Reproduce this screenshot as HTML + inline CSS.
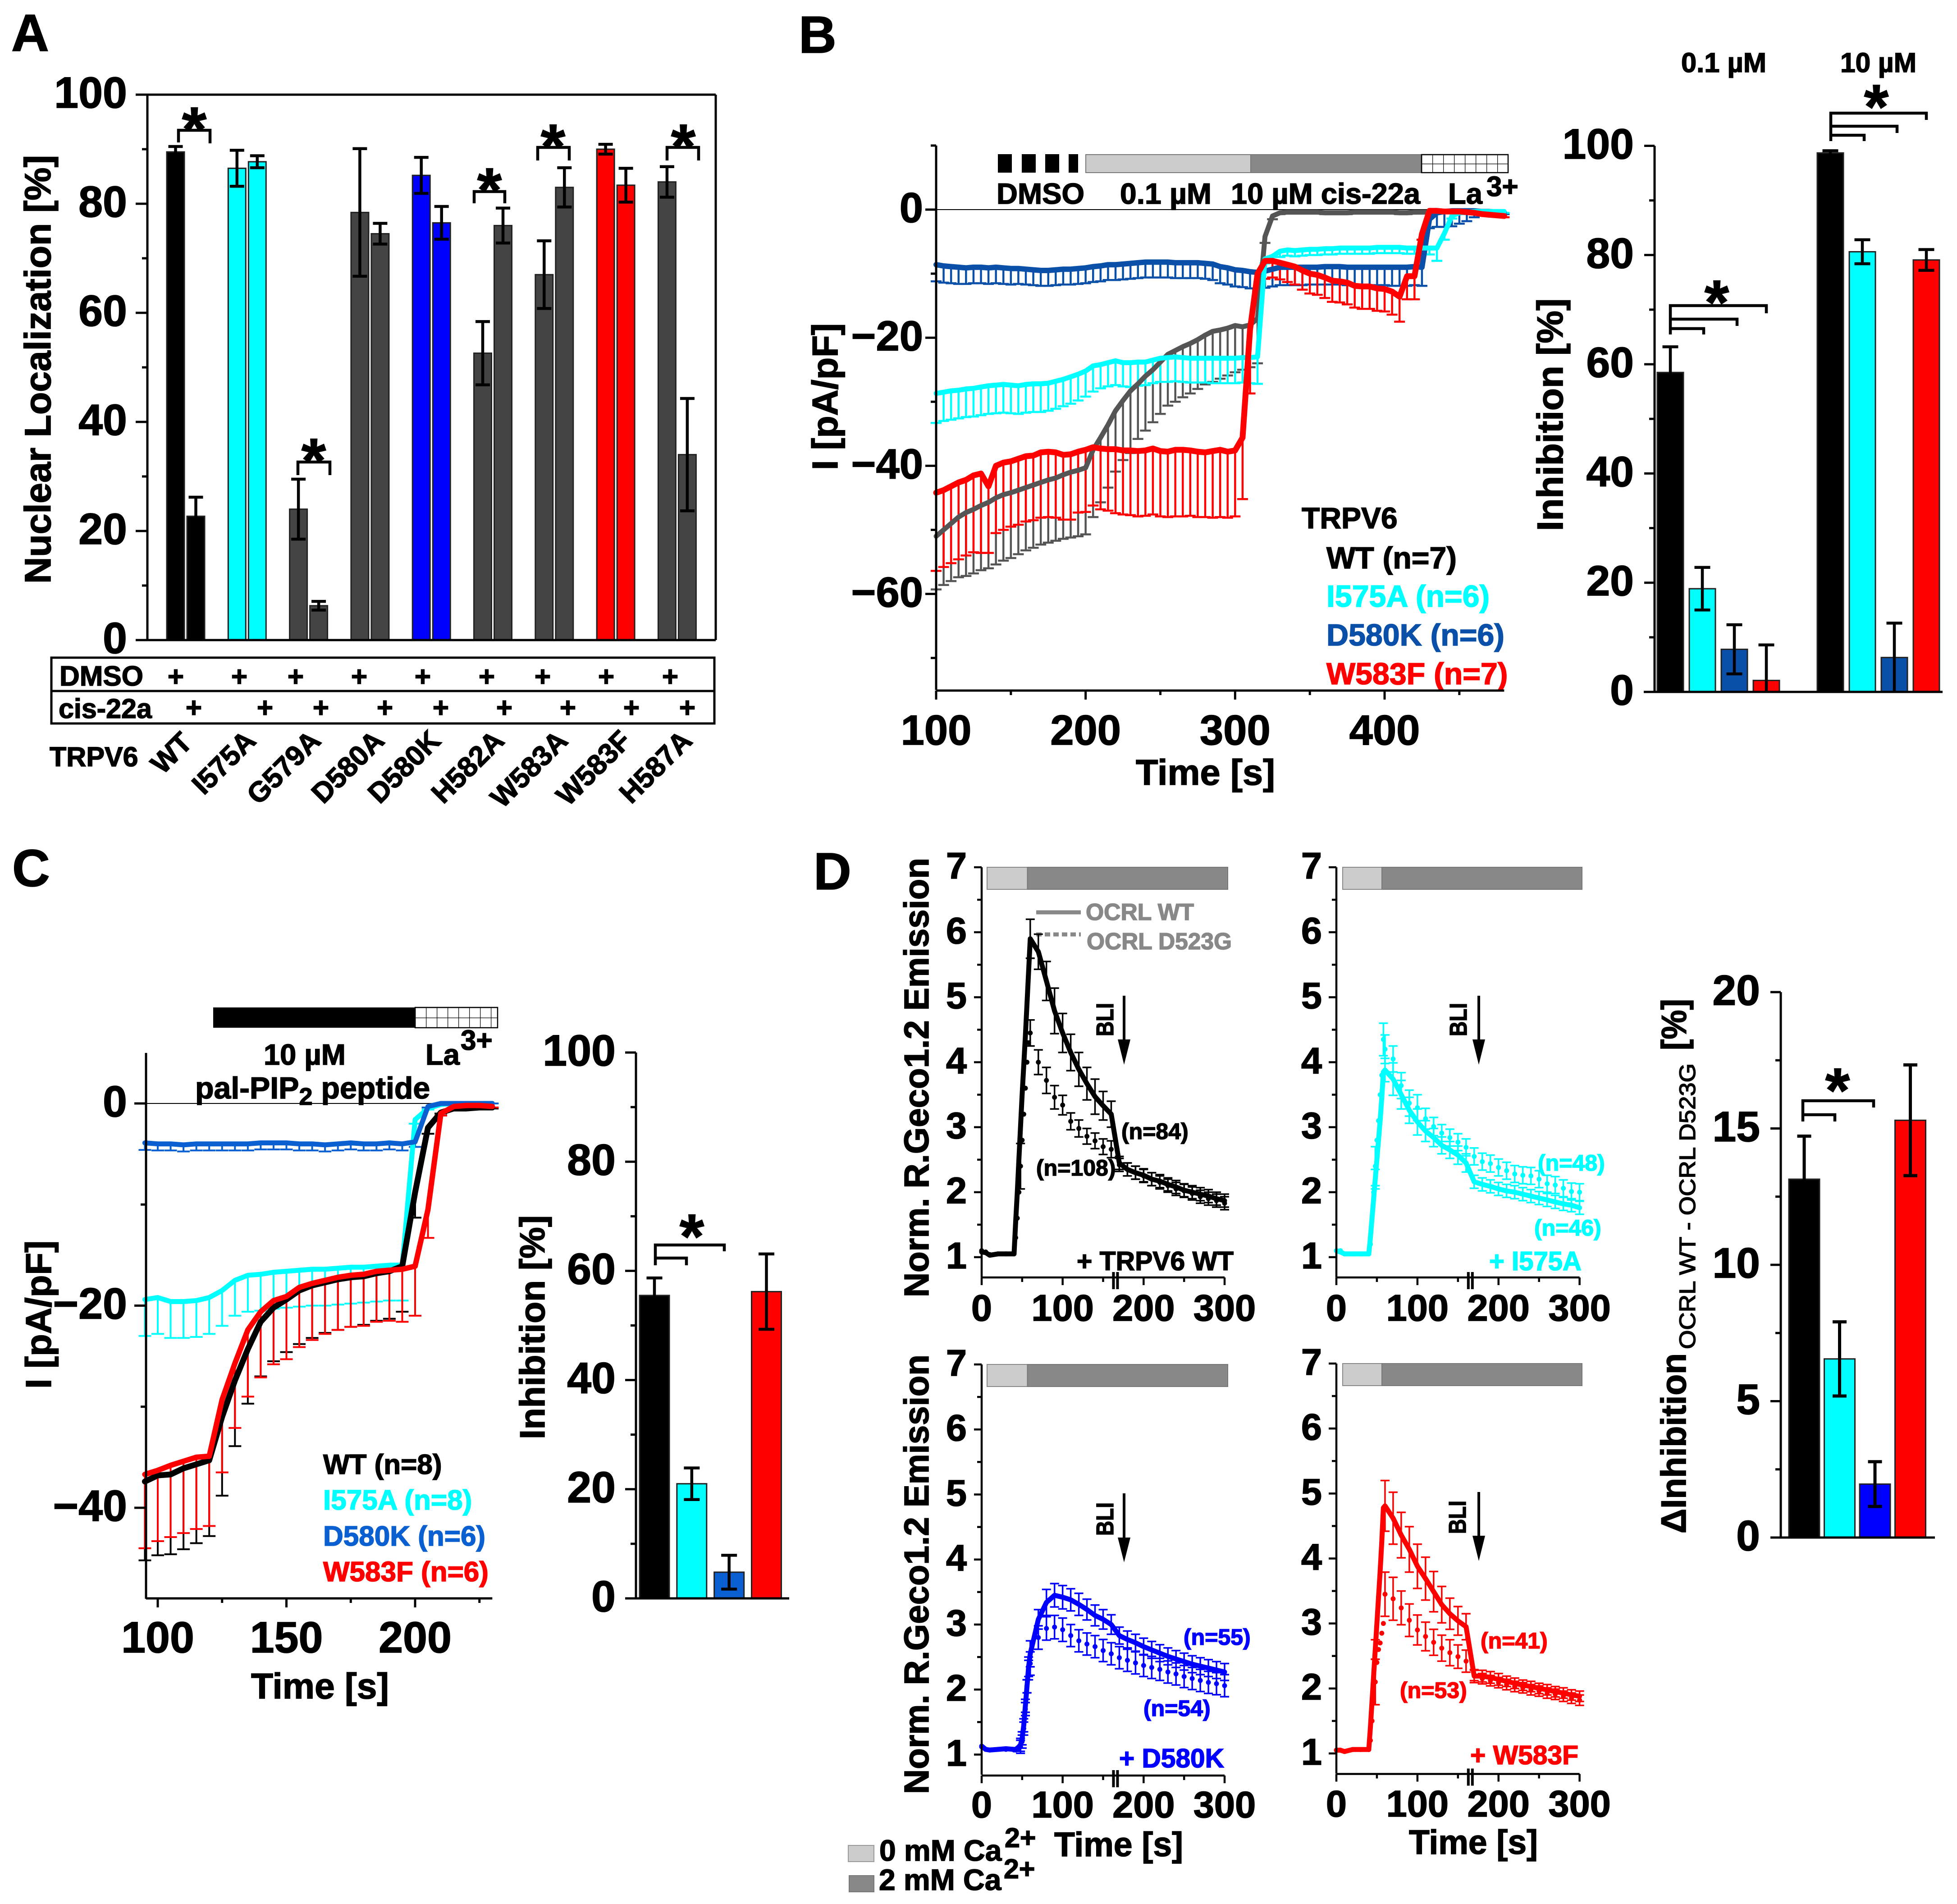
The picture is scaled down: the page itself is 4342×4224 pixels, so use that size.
<!DOCTYPE html>
<html lang="en">
<head>
<meta charset="utf-8">
<title>TRPV6 figure</title>
<style>
html,body{margin:0;padding:0;background:#fff}
svg{display:block;font-family:"Liberation Sans",sans-serif;font-weight:bold}
</style>
</head>
<body>
<svg id="figure" width="4342" height="4224" viewBox="0 0 4342 4224">
<defs>
<pattern id="hatchB" patternUnits="userSpaceOnUse" width="24" height="20" patternTransform="translate(3154,343)"><rect width="24" height="20" fill="#fff"/><path d="M0 0V20M0 0H24" stroke="#000" stroke-width="2.5" fill="none"/></pattern>
<pattern id="hatchC" patternUnits="userSpaceOnUse" width="24" height="22.5" patternTransform="translate(921,2235)"><rect width="24" height="22.5" fill="#fff"/><path d="M0 0V22.5M0 0H24" stroke="#000" stroke-width="2.5" fill="none"/></pattern>
</defs>
<rect width="4342" height="4224" fill="#fff"/>

<!-- Panel letters -->
<text x="25" y="113" font-size="116">A</text>
<text x="1772" y="117" font-size="116">B</text>
<text x="27" y="1966" font-size="116">C</text>
<text x="1805" y="1973" font-size="116">D</text>

<!-- Panel A static parts -->
<g>
<text x="112" y="1295" font-size="82" textLength="951" lengthAdjust="spacingAndGlyphs" transform="rotate(-90 112 1295)">Nuclear Localization [%]</text>
<g fill="none" stroke="#000" stroke-width="6.5">
<path d="M396 316V289H466V318"/>
<path d="M661 1054V1025H732V1054"/>
<path d="M1052 451V425H1120V451"/>
<path d="M1193 356V327H1263V356"/>
<path d="M1480 356V327H1550V356"/>
</g>
<g font-size="140" text-anchor="middle">
<text x="431" y="335">*</text>
<text x="696" y="1070">*</text>
<text x="1086" y="470">*</text>
<text x="1227" y="373">*</text>
<text x="1516" y="373">*</text>
</g>
<rect x="114" y="1459" width="1471" height="146" fill="none" stroke="#000" stroke-width="5"/>
<line x1="114" x2="1585" y1="1533" y2="1533" stroke="#000" stroke-width="5"/>
<text x="132" y="1521" font-size="62">DMSO</text>
<text x="130" y="1593" font-size="61">cis-22a</text>
<g font-size="62" text-anchor="middle">
<text x="390" y="1522">+</text>
<text x="531" y="1522">+</text>
<text x="656" y="1522">+</text>
<text x="797" y="1522">+</text>
<text x="938" y="1522">+</text>
<text x="1080" y="1522">+</text>
<text x="1204" y="1522">+</text>
<text x="1345" y="1522">+</text>
<text x="1487" y="1522">+</text>
</g>
<g font-size="62" text-anchor="middle">
<text x="430" y="1591">+</text>
<text x="588" y="1591">+</text>
<text x="712" y="1591">+</text>
<text x="854" y="1591">+</text>
<text x="978" y="1591">+</text>
<text x="1119" y="1591">+</text>
<text x="1260" y="1591">+</text>
<text x="1401" y="1591">+</text>
<text x="1525" y="1591">+</text>
</g>
<text x="110" y="1700" font-size="61">TRPV6</text>
<g font-size="63" text-anchor="end">
<text x="430" y="1651" transform="rotate(-45 430 1651)">WT</text>
<text x="571" y="1647" transform="rotate(-45 571 1647)">I575A</text>
<text x="715" y="1647" transform="rotate(-45 715 1647)">G579A</text>
<text x="856" y="1647" transform="rotate(-45 856 1647)">D580A</text>
<text x="981" y="1647" transform="rotate(-45 981 1647)">D580K</text>
<text x="1122" y="1647" transform="rotate(-45 1122 1647)">H582A</text>
<text x="1263" y="1647" transform="rotate(-45 1263 1647)">W583A</text>
<text x="1404" y="1647" transform="rotate(-45 1404 1647)">W583F</text>
<text x="1539" y="1647" transform="rotate(-45 1539 1647)">H587A</text>
</g>
</g>

<!-- Panel B static parts -->
<g>
<text x="1858" y="1043" font-size="80" textLength="326" lengthAdjust="spacingAndGlyphs" transform="rotate(-90 1858 1043)">I [pA/pF]</text>
<text x="2520" y="1741" font-size="80" textLength="309" lengthAdjust="spacingAndGlyphs">Time [s]</text>
<g fill="#000">
<rect x="2214" y="342" width="31" height="41"/>
<rect x="2267" y="342" width="31" height="41"/>
<rect x="2319" y="342" width="31" height="41"/>
<rect x="2371" y="342" width="21" height="41"/>
</g>
<rect x="2409" y="343" width="366" height="40" fill="#cccccc" stroke="#777" stroke-width="2"/>
<rect x="2775" y="343" width="379" height="40" fill="#888888" stroke="#777" stroke-width="2"/>
<rect x="3154" y="343" width="192" height="40" fill="url(#hatchB)" stroke="#000" stroke-width="2.5"/>
<text x="2211" y="452" font-size="65">DMSO</text>
<text x="2485" y="452" font-size="65" textLength="203" lengthAdjust="spacingAndGlyphs">0.1 µM</text>
<text x="2731" y="452" font-size="65" textLength="420" lengthAdjust="spacingAndGlyphs">10 µM cis-22a</text>
<text x="3213" y="452" font-size="65">La</text>
<text x="3298" y="435" font-size="62">3+</text>
<text x="2888" y="1172" font-size="66">TRPV6</text>
<text x="2943" y="1261" font-size="68" fill="#000">WT (n=7)</text>
<text x="2943" y="1346" font-size="68" fill="#00ffff">I575A (n=6)</text>
<text x="2943" y="1432" font-size="68" fill="#0a50a8">D580K (n=6)</text>
<text x="2943" y="1518" font-size="68" fill="#ff0000">W583F (n=7)</text>
<text x="3467" y="1178" font-size="81" textLength="516" lengthAdjust="spacingAndGlyphs" transform="rotate(-90 3467 1178)">Inhibition [%]</text>
<text x="3730" y="160" font-size="61" textLength="189" lengthAdjust="spacingAndGlyphs">0.1 µM</text>
<text x="4083" y="160" font-size="61" textLength="169" lengthAdjust="spacingAndGlyphs">10 µM</text>
<g fill="none" stroke="#000" stroke-width="6.5">
<path d="M3706 742V678H3919V695"/>
<path d="M3706 708H3854V723"/>
<path d="M3706 729H3780V742"/>
<path d="M4062 313V251H4274V266"/>
<path d="M4062 280H4209V295"/>
<path d="M4062 300H4136V313"/>
</g>
<text x="3809" y="719" font-size="140" text-anchor="middle">*</text>
<text x="4163" y="285" font-size="140" text-anchor="middle">*</text>
</g>

<!-- Panel C static parts -->
<g>
<text x="113" y="3081" font-size="80" textLength="329" lengthAdjust="spacingAndGlyphs" transform="rotate(-90 113 3081)">I [pA/pF]</text>
<text x="557" y="3768" font-size="80" textLength="306" lengthAdjust="spacingAndGlyphs">Time [s]</text>
<rect x="473" y="2235" width="448" height="45" fill="#000"/>
<rect x="921" y="2235" width="183" height="45" fill="url(#hatchC)" stroke="#000" stroke-width="2.5"/>
<text x="585" y="2362" font-size="65">10 µM</text>
<text x="433" y="2437" font-size="68">pal-PIP<tspan font-size="54" dy="14">2</tspan><tspan dy="-14"> peptide</tspan></text>
<text x="944" y="2362" font-size="65">La</text>
<text x="1022" y="2329" font-size="62">3+</text>
<text x="717" y="3270" font-size="62" fill="#000">WT (n=8)</text>
<text x="717" y="3349" font-size="62" fill="#00ffff">I575A (n=8)</text>
<text x="717" y="3429" font-size="62" fill="#0a60d0">D580K (n=6)</text>
<text x="717" y="3508" font-size="62" fill="#ff0000">W583F (n=6)</text>
<text x="1208" y="3193" font-size="78" textLength="497" lengthAdjust="spacingAndGlyphs" transform="rotate(-90 1208 3193)">Inhibition [%]</text>
<g fill="none" stroke="#000" stroke-width="6.5">
<path d="M1454 2807V2762H1607V2776"/>
<path d="M1454 2791H1523V2807"/>
</g>
<text x="1535" y="2791" font-size="140" text-anchor="middle">*</text>
</g>

<!-- Panel D static parts -->
<g>
<text x="2060" y="2878" font-size="77" textLength="975" lengthAdjust="spacingAndGlyphs" transform="rotate(-90 2060 2878)">Norm. R.Geco1.2 Emission</text>
<text x="2060" y="3980" font-size="77" textLength="975" lengthAdjust="spacingAndGlyphs" transform="rotate(-90 2060 3980)">Norm. R.Geco1.2 Emission</text>
<text x="2339" y="4118" font-size="76" textLength="286" lengthAdjust="spacingAndGlyphs">Time [s]</text>
<text x="3126" y="4113" font-size="76" textLength="286" lengthAdjust="spacingAndGlyphs">Time [s]</text>

<line x1="2299" x2="2398" y1="2024" y2="2024" stroke="#888" stroke-width="9"/>
<line x1="2299" x2="2398" y1="2073" y2="2073" stroke="#888" stroke-width="9" stroke-dasharray="12 7"/>
<text x="2409" y="2041" font-size="52" fill="#888" textLength="240" lengthAdjust="spacingAndGlyphs">OCRL WT</text>
<text x="2411" y="2106" font-size="52" fill="#888" textLength="322" lengthAdjust="spacingAndGlyphs">OCRL D523G</text>

<text x="2470" y="2299" font-size="54" textLength="74" lengthAdjust="spacingAndGlyphs" transform="rotate(-90 2470 2299)">BLI</text>
<text x="3254" y="2299" font-size="54" textLength="74" lengthAdjust="spacingAndGlyphs" transform="rotate(-90 3254 2299)">BLI</text>
<text x="2470" y="3407" font-size="54" textLength="74" lengthAdjust="spacingAndGlyphs" transform="rotate(-90 2470 3407)">BLI</text>
<text x="3252" y="3403" font-size="54" textLength="74" lengthAdjust="spacingAndGlyphs" transform="rotate(-90 3252 3403)">BLI</text>
<g><line x1="2494" x2="2494" y1="2209" y2="2310" stroke="#000" stroke-width="6"/><path d="M2480 2306H2508L2494 2362Z" fill="#000"/></g>
<g><line x1="3281" x2="3281" y1="2209" y2="2310" stroke="#000" stroke-width="6"/><path d="M3267 2306H3295L3281 2362Z" fill="#000"/></g>
<g><line x1="2494" x2="2494" y1="3313" y2="3415" stroke="#000" stroke-width="6"/><path d="M2480 3411H2508L2494 3466Z" fill="#000"/></g>
<g><line x1="3281" x2="3281" y1="3310" y2="3411" stroke="#000" stroke-width="6"/><path d="M3267 3407H3295L3281 3463Z" fill="#000"/></g>

<text x="2488" y="2527" font-size="50" fill="#000">(n=84)</text>
<text x="2299" y="2608" font-size="50" fill="#000">(n=108)</text>
<text x="2389" y="2818" font-size="59" fill="#000" textLength="348" lengthAdjust="spacingAndGlyphs">+ TRPV6 WT</text>
<text x="3412" y="2597" font-size="50" fill="#00ffff">(n=48)</text>
<text x="3404" y="2741" font-size="50" fill="#00ffff">(n=46)</text>
<text x="3304" y="2818" font-size="59" fill="#00ffff" textLength="205" lengthAdjust="spacingAndGlyphs">+ I575A</text>
<text x="2626" y="3649" font-size="50" fill="#0000ff">(n=55)</text>
<text x="2537" y="3807" font-size="50" fill="#0000ff">(n=54)</text>
<text x="2483" y="3921" font-size="59" fill="#0000ff" textLength="233" lengthAdjust="spacingAndGlyphs">+ D580K</text>
<text x="3285" y="3657" font-size="50" fill="#ff0000">(n=41)</text>
<text x="3106" y="3767" font-size="50" fill="#ff0000">(n=53)</text>
<text x="3262" y="3914" font-size="59" fill="#ff0000" textLength="240" lengthAdjust="spacingAndGlyphs">+ W583F</text>

<rect x="1882" y="4094" width="57" height="36" fill="#cccccc" stroke="#999" stroke-width="2"/>
<rect x="1884" y="4161" width="55" height="36" fill="#888888" stroke="#777" stroke-width="2"/>
<text x="1951" y="4128" font-size="66">0 mM Ca</text>
<text x="2229" y="4098" font-size="61">2+</text>
<text x="1950" y="4193" font-size="66">2 mM Ca</text>
<text x="2227" y="4167" font-size="61">2+</text>

<g>
<text x="3740" y="3402" font-size="78" textLength="400" lengthAdjust="spacingAndGlyphs" transform="rotate(-90 3740 3402)">ΔInhibition</text>
<text x="3761" y="2993" font-size="50" font-weight="normal" textLength="634" lengthAdjust="spacingAndGlyphs" transform="rotate(-90 3761 2993)">OCRL WT - OCRL D523G</text>
<text x="3741" y="2330" font-size="78" textLength="114" lengthAdjust="spacingAndGlyphs" transform="rotate(-90 3741 2330)">[%]</text>
</g>
<g fill="none" stroke="#000" stroke-width="6.5">
<path d="M4000 2488V2442H4157V2457"/>
<path d="M4000 2473H4071V2488"/>
</g>
<text x="4077" y="2467" font-size="140" text-anchor="middle">*</text>
</g>
</svg>

<script>
/* ---------- Panel A data ---------- */
const A_CATEGORIES = ['WT','I575A','G579A','D580A','D580K','H582A','W583A','W583F','H587A'];
const A_DMSO     = [89.5,86.5,24,78.4,85.2,52.6,67,90,84];
const A_DMSO_ERR = [1,3.3,5.5,11.7,3.3,5.8,6.2,0.9,2.8];
const A_CIS      = [22.7,87.7,6.3,74.5,76.5,76,83,83.4,34];
const A_CIS_ERR  = [3.5,1.1,0.8,1.9,3,3.2,3.6,3.1,10.3];
const A_Y_TICKS  = [0,20,40,60,80,100];
const A_Y_MINOR  = [10,30,50,70,90];

/* ---------- Panel B trace data ---------- */
const B_TIME = [100,105,110,115,120,125,130,135,140,145,
150,155,160,165,170,175,180,185,190,195,
200,205,210,215,220,225,230,235,240,245,
250,255,260,265,270,275,280,285,290,295,
300,305,310,315,320,325,330,335,340,345,
350,355,360,365,370,375,380,385,390,395,
400,405,410,415,420,425,430,435,440,445,
450,455,460,465,470,475,480];
const B_WT_MEAN = [-51,-50,-49,-48,-47.3,-46.8,-46.2,-45.7,-45,-44.5,
-44.2,-43.8,-43.4,-43,-42.6,-42.2,-41.9,-41.4,-41,-40.7,
-40.3,-37.5,-35.6,-33.6,-31.4,-29.8,-28.3,-27.2,-26,-25,
-23.8,-22.6,-22,-21.4,-20.9,-20.3,-19.6,-19,-18.8,-18.5,
-18.1,-18.3,-18,-17,-4.2,-1,-0.5,-0.4,-0.4,-0.4,
-0.4,-0.4,-0.5,-0.5,-0.5,-0.5,-0.4,-0.4,-0.4,-0.4,
-0.4,-0.4,-0.5,-0.5,-0.4,-0.4,-0.4,-0.3,-0.3,-0.3,
-0.2,-0.2,-0.3,-0.3,-0.3,-0.4,-0.4];
const B_WT_ERR = [8.3,8.6,9,9.4,9.9,10,10.1,10.3,10.4,10.3,
10.2,10,9.8,9.8,9.7,9.8,9.8,10,10.2,10.3,
10.4,10.5,10.1,9.8,9.5,9.3,9.7,8.6,8.5,8.2,
8.1,8,8,7.9,7.8,7.7,7.7,7.9,7.6,7.4,
7.3,6.7,6.6,7,1,0.5,0.2,0.2,0.2,0.2,
0.2,0.2,0.2,0.2,0.2,0.2,0.2,0.2,0.2,0.2,
0.2,0.2,0.2,0.2,0.2,0.2,0.2,0.2,0.2,0.2,
0.2,0.2,0.2,0.2,0.2,0.2,0.2];
const B_I575A_MEAN = [-28.7,-28.5,-28.3,-28.2,-28,-27.9,-27.7,-27.5,-27.4,-27.3,
-27.4,-27.5,-27.3,-27.2,-27.2,-27.1,-26.8,-26.5,-26.1,-25.7,
-25.2,-24.4,-24.2,-23.9,-23.6,-23.9,-23.9,-23.8,-23.8,-23.5,
-23.2,-23.1,-23,-23.1,-23.2,-23.2,-23.2,-23.2,-23.2,-23.2,
-23.2,-23.1,-23.1,-23,-7.7,-7.3,-6.5,-6.3,-6.4,-6.3,
-6.2,-6.2,-6.1,-6.1,-6,-6,-6,-6,-6,-5.9,
-5.9,-5.9,-5.9,-6,-6,-6,-6,-6,-3.7,-1,
-0.5,-0.4,-0.3,-0.3,-0.3,-0.3,-0.3];
const B_I575A_ERR = [4.6,4.5,4.5,4.4,4.4,4.4,4.4,4.4,4.4,4.4,
4.4,4.4,4.4,4.4,4.4,4.3,4.3,4.2,4.2,4.1,
4,4,3.7,3.7,3.8,3.7,3.8,3.7,3.6,3.6,
3.7,3.8,3.8,3.8,3.8,3.8,3.8,3.9,3.9,3.9,
3.9,3.9,4,4.2,0.7,0.8,0.9,0.9,0.9,0.9,
0.9,0.9,0.9,0.9,0.9,0.9,0.9,0.9,0.9,0.9,
0.9,0.9,0.9,0.9,0.9,0.9,1,2,1,0.4,
0.2,0.2,0.2,0.2,0.2,0.2,0.2];
const B_D580K_MEAN = [-8.6,-8.8,-8.9,-9,-9.1,-9,-9,-9.1,-9,-9.1,
-9.2,-9.2,-9.3,-9.4,-9.5,-9.5,-9.4,-9.3,-9.3,-9.2,
-9.1,-8.9,-8.8,-8.6,-8.6,-8.5,-8.4,-8.3,-8.2,-8.2,
-8.2,-8.2,-8.3,-8.3,-8.3,-8.3,-8.4,-8.5,-8.9,-9.1,
-9.4,-9.5,-9.7,-9.8,-9.6,-9.3,-9,-9,-9,-9,
-9,-9,-8.9,-8.9,-8.9,-9,-9,-9,-9,-9,
-9,-9,-9,-9,-8.9,-9,-1.5,-0.5,-0.3,-0.2,
-0.2,-0.2,-0.2,-0.3,-0.3,-0.4,-0.4];
const B_D580K_ERR = [2.6,2.6,2.6,2.6,2.5,2.5,2.5,2.5,2.5,2.5,
2.5,2.4,2.4,2.4,2.4,2.4,2.4,2.4,2.4,2.4,
2.4,2.4,2.4,2.4,2.4,2.4,2.4,2.4,2.4,2.4,
2.4,2.4,2.4,2.4,2.4,2.4,2.4,2.5,2.6,2.6,
2.6,2.6,2.6,2.6,2.6,2.7,2.8,2.8,2.8,2.8,
2.7,2.7,2.8,2.8,2.8,2.8,2.8,2.8,2.8,2.8,
2.8,2.9,2.9,2.9,2.9,2.9,1.4,2.2,2.4,2.4,
2,1.6,1,0.3,0.3,0.3,0.3];
const B_W583F_MEAN = [-44.2,-43.8,-43.2,-42.6,-42.2,-41.5,-41.2,-43.2,-40,-39.5,
-39.3,-38.9,-38.5,-38.4,-37.9,-37.8,-37.9,-38.3,-38.2,-37.8,
-37.5,-37.1,-37.3,-37.4,-37.4,-37.6,-37.6,-37.7,-37.6,-37.3,
-37.7,-37.8,-37.5,-37.5,-37.6,-37.8,-37.9,-37.7,-37.5,-37.8,
-37.6,-35.6,-18.7,-10,-8,-8,-8.3,-8.6,-8.9,-9.5,
-10,-10.2,-10.6,-11.1,-11.2,-11.4,-11.9,-12,-12,-12.3,
-12.4,-12.8,-13.6,-10.4,-10.4,-3.8,-0.2,-0.2,-0.3,-0.3,
-0.3,-0.4,-0.5,-0.7,-0.8,-0.9,-1];
const B_W583F_ERR = [12.2,12,12,12,11.8,12,12.4,10.4,10.5,10.5,
10.2,10.3,10.2,10.1,10.2,10.2,10.2,10.1,10.2,9.5,
9.7,9.1,9.5,9.6,10,10,10.1,10.2,10.2,10.3,
10.2,10.2,10.4,10.4,10.2,10.2,10.1,10.4,10.5,10.3,
10.3,9.6,10,2.8,2.8,2.6,2.6,2.7,2.8,3,
3.1,3.1,3.2,3.3,3.3,3.4,3.4,3.5,3.5,3.5,
3.5,3.6,3.9,3.6,3.6,0.9,0.2,0.2,0.2,0.2,
0.2,0.2,0.2,0.2,0.2,0.2,0.2];
const B_X_TICKS = [100,200,300,400];
const B_X_MINOR = [150,250,350,450];
const B_Y_TICKS = [0,-20,-40,-60];
const B_Y_MINOR = [10,-10,-30,-50,-70];

/* ---------- Panel B inhibition bars ---------- */
const BI_LOW_VALUES  = [58.5,18.9,7.8,2.1];
const BI_LOW_ERR     = [4.7,3.9,4.5,6.5];
const BI_HIGH_VALUES = [98.7,80.6,6.3,79.1];
const BI_HIGH_ERR    = [0.4,2.2,6.3,1.9];
const BI_VARIANTS    = ['WT','I575A','D580K','W583F'];
const BI_Y_TICKS = [0,20,40,60,80,100];
const BI_Y_MINOR = [10,30,50,70,90];

/* ---------- Panel C trace data ---------- */
const C_TIME = [95,100,105,110,115,120,125,130,135,140,145,150,155,160,165,170,175,180,185,190,195,200,205,210,215,220,225,230];
const C_WT_MEAN = [-37.4,-36.8,-36.7,-36.1,-35.7,-35.3,-31,-27.4,-24.3,-21.6,-20.2,-19.4,-18.5,-18,-17.7,-17.4,-17.2,-17.1,-16.8,-16.6,-16.1,-8.8,-2.4,-0.9,-0.5,-0.5,-0.4,-0.4];
const C_WT_ERR = [7.8,7.9,7.9,8,7.8,7.5,7.8,6.5,5.4,5.4,5.3,5.2,5.3,5.2,5,5,4.9,4.8,4.7,4.7,4.5,2.5,0.6,0.1,0.1,0.1,0.1,0.1];
const C_I575A_MEAN = [-19.4,-19.2,-19.6,-19.6,-19.5,-19.2,-18.5,-17.5,-17,-16.9,-16.7,-16.6,-16.5,-16.4,-16.4,-16.3,-16.2,-16.2,-16.1,-16,-16,-1.6,-0.5,-0.1,0,0,0,0];
const C_I575A_ERR = [3.6,3.6,3.6,3.6,3.6,3.6,3.5,3.5,3.6,3.6,3.6,3.6,3.6,3.6,3.6,3.6,3.6,3.5,3.5,3.5,3.5,0.4,0.1,0,0,0,0,0];
const C_D580K_MEAN = [-3.9,-4,-4,-4.1,-4,-4,-4,-4,-4,-3.9,-3.9,-3.9,-4,-4,-4.1,-4,-3.9,-4,-4,-3.9,-4,-3.8,-0.3,0,0,0,0,0];
const C_D580K_ERR = [0.7,0.65,0.65,0.65,0.65,0.65,0.65,0.65,0.65,0.65,0.65,0.65,0.65,0.65,0.65,0.65,0.65,0.65,0.65,0.65,0.65,0.5,0.1,0,0,0,0,0];
const C_W583F_MEAN = [-36.7,-36.3,-35.8,-35.4,-35,-34.9,-29.3,-25.7,-22.4,-20.6,-19.5,-19.1,-18.2,-17.8,-17.5,-17.2,-17,-16.9,-16.6,-16.5,-16.4,-16.1,-10.5,-1,-0.3,-0.2,-0.2,-0.3];
const C_W583F_ERR = [7.3,7,7.1,7.1,7.1,6.9,7.2,6.4,6.6,6.5,6.3,6.2,5.9,5.6,5.3,5.2,5.1,5.1,5,5,5.2,4.9,2.8,0.2,0.1,0.1,0.1,0.1];
const C_X_TICKS = [100,150,200];
const C_X_MINOR = [125,175,225];
const C_Y_TICKS = [0,-20,-40];
const C_Y_MINOR = [-10,-30];

/* ---------- Panel C inhibition bars ---------- */
const CI_VARIANTS = ['WT','I575A','D580K','W583F'];
const CI_VALUES = [55.5,21,4.8,56.2];
const CI_ERR = [3.2,2.9,3.1,6.9];
const CI_Y_TICKS = [0,20,40,60,80,100];
const CI_Y_MINOR = [10,30,50,70,90];

/* ---------- Panel D trace data ---------- */
const D_TIME = [0,5,10,20,30,40,42,44,46,48,50,52,54,56,58,60,70,80,90,100,110,120,130,140,150,160,170,180,190,200,210,220,230,240,250,260,270,280,290,300];
const D_WT_WT = [1.08,1.07,1.03,1.05,1.05,1.05,1.55,2,2.5,3,3.5,3.95,4.4,4.9,5.4,5.9,5.7,5.25,4.79,4.45,4.15,3.89,3.67,3.47,3.33,3.2,2.45,2.35,2.3,2.26,2.2,2.17,2.12,2.08,2.03,2,1.97,1.94,1.9,1.87];
const D_WT_WT_ERR = [0.02,0.02,0.02,0.02,0.02,0.02,0.02,0.02,0.02,0.05,0.05,0.05,0.05,0.05,0.05,0.3,0.27,0.3,0.35,0.3,0.28,0.26,0.25,0.27,0.22,0.2,0.1,0.1,0.1,0.1,0.1,0.1,0.1,0.1,0.1,0.1,0.1,0.1,0.1,0.1];
const D_WT_MUT = [1.1,1.08,1.04,1.05,1.05,1.05,1.3,1.6,2,2.4,2.8,3.2,3.6,4,4.3,4.45,4,3.72,3.46,3.34,3.09,2.98,2.86,2.79,2.7,2.66,2.42,2.35,2.3,2.25,2.2,2.15,2.1,2.05,2.02,1.98,1.93,1.9,1.87,1.83];
const D_WT_MUT_ERR = [0.02,0.02,0.02,0.02,0.02,0.02,0.02,0.02,0.05,0.35,0.05,0.05,0.05,0.05,0.05,0.2,0.19,0.2,0.18,0.15,0.13,0.13,0.12,0.12,0.12,0.13,0.1,0.1,0.1,0.1,0.1,0.1,0.1,0.1,0.1,0.1,0.1,0.1,0.1,0.1];
const D_I575A_WT = [1.1,1.08,1.05,1.05,1.05,1.05,1.3,1.6,1.9,2.2,2.5,2.8,3.1,3.45,3.85,3.88,3.74,3.5,3.26,3.08,2.94,2.84,2.72,2.65,2.57,2.45,2.16,2.12,2.09,2.05,2.02,2,1.97,1.94,1.91,1.88,1.85,1.82,1.8,1.76];
const D_I575A_WT_ERR = [0.02,0.02,0.02,0.02,0.02,0.02,0.02,0.02,0.05,0.15,0.05,0.05,0.05,0.05,0.05,0.18,0.25,0.22,0.2,0.2,0.16,0.14,0.13,0.13,0.14,0.14,0.1,0.1,0.1,0.1,0.1,0.1,0.1,0.1,0.1,0.1,0.1,0.1,0.1,0.1];
const D_I575A_MUT = [1.1,1.1,1.05,1.05,1.05,1.05,1.2,1.6,2,2.4,2.8,3.1,3.5,3.8,4.35,4.2,4.05,3.64,3.37,3.3,3.13,3.01,2.91,2.84,2.77,2.69,2.55,2.47,2.44,2.38,2.33,2.28,2.26,2.25,2.2,2.13,2.11,2.06,2.01,2];
const D_I575A_MUT_ERR = [0.02,0.02,0.02,0.02,0.02,0.02,0.02,0.02,0.05,0.3,0.05,0.05,0.05,0.05,0.25,0.22,0.2,0.2,0.2,0.2,0.16,0.14,0.13,0.13,0.13,0.13,0.13,0.13,0.13,0.13,0.13,0.13,0.13,0.13,0.13,0.13,0.13,0.13,0.13,0.13];
const D_D580K_WT = [1.13,1.08,1.07,1.08,1.09,1.08,1.08,1.1,1.12,1.15,1.25,1.45,1.75,2.05,2.35,2.55,3.08,3.34,3.45,3.42,3.38,3.31,3.23,3.14,3.08,3,2.83,2.77,2.72,2.66,2.61,2.56,2.51,2.47,2.43,2.39,2.36,2.33,2.3,2.27];
const D_D580K_WT_ERR = [0.02,0.02,0.02,0.02,0.02,0.02,0.02,0.02,0.05,0.1,0.1,0.1,0.1,0.1,0.15,0.2,0.15,0.2,0.18,0.18,0.17,0.17,0.16,0.16,0.15,0.15,0.13,0.13,0.13,0.13,0.13,0.13,0.13,0.13,0.13,0.13,0.13,0.13,0.13,0.13];
const D_D580K_MUT = [1.12,1.08,1.07,1.08,1.08,1.07,1.07,1.08,1.1,1.12,1.2,1.4,1.7,2.05,2.3,2.4,2.8,2.94,2.96,2.92,2.83,2.75,2.7,2.66,2.6,2.55,2.49,2.45,2.41,2.37,2.34,2.31,2.27,2.24,2.2,2.17,2.14,2.11,2.09,2.06];
const D_D580K_MUT_ERR = [0.02,0.02,0.02,0.02,0.02,0.02,0.02,0.02,0.05,0.1,0.1,0.1,0.1,0.1,0.15,0.18,0.18,0.18,0.18,0.18,0.17,0.17,0.17,0.17,0.17,0.17,0.17,0.17,0.17,0.17,0.17,0.17,0.17,0.17,0.17,0.17,0.17,0.17,0.17,0.17];
const D_W583F_WT = [1.05,1.05,1.03,1.06,1.06,1.06,1.4,1.8,2.2,2.6,3,3.4,3.8,4.25,4.78,4.81,4.62,4.36,4.14,3.88,3.69,3.49,3.29,3.15,3.04,2.95,2.19,2.19,2.17,2.14,2.11,2.08,2.05,2.03,2,1.98,1.95,1.93,1.9,1.88];
const D_W583F_WT_ERR = [0.02,0.02,0.02,0.02,0.02,0.02,0.02,0.02,0.05,0.15,0.05,0.05,0.05,0.05,0.05,0.39,0.4,0.35,0.35,0.34,0.33,0.31,0.28,0.24,0.22,0.2,0.1,0.09,0.09,0.09,0.08,0.08,0.08,0.08,0.08,0.08,0.08,0.08,0.08,0.08];
const D_W583F_MUT = [1.05,1.05,1.03,1.06,1.06,1.06,1.2,1.5,1.8,2.1,2.4,2.6,2.7,2.85,3,3.45,3.38,3.24,3.05,2.9,2.8,2.71,2.62,2.55,2.49,2.42,2.2,2.15,2.12,2.09,2.06,2.03,2.01,1.98,1.96,1.93,1.91,1.88,1.85,1.82];
const D_W583F_MUT_ERR = [0.02,0.02,0.02,0.02,0.02,0.02,0.02,0.02,0.05,0.35,0.05,0.05,0.05,0.05,0.05,0.34,0.33,0.26,0.25,0.23,0.22,0.2,0.2,0.2,0.18,0.17,0.08,0.08,0.08,0.08,0.08,0.08,0.08,0.08,0.08,0.08,0.08,0.08,0.08,0.08];
const D_X_TICKS = [0,100,200,300];
const D_X_MINOR = [50,150,250];
const D_Y_TICKS = [1,2,3,4,5,6,7];
const D_Y_MINOR = [1.5,2.5,3.5,4.5,5.5,6.5];

/* ---------- Panel D delta bars ---------- */
const DI_VARIANTS = ['WT','I575A','D580K','W583F'];
const DI_VALUES = [13.14,6.55,1.96,15.3];
const DI_ERR = [1.58,1.36,0.82,2.03];
const DI_Y_TICKS = [0,5,10,15,20];
const DI_Y_MINOR = [2.5,7.5,12.5,17.5];

/* ---------- helpers ---------- */
const SVG_NS = document.getElementById('figure').namespaceURI;
const root = document.getElementById('figure');
const COLORS = {WT:'#000000',I575A:'#00ffff',G579A:'#444444',D580A:'#444444',D580K:'#0000ff',H582A:'#444444',W583A:'#444444',W583F:'#ff0000',H587A:'#444444'};

function scale(d0,d1,r0,r1){ return v => r0+(v-d0)*(r1-r0)/(d1-d0); }
function fmt(v){ return (v<0?'\u2212':'')+Math.abs(v); }
function add(parent,tag,name){
  const el = document.createElementNS(SVG_NS,tag);
  
  
  parent.appendChild(el);
  return el;
}
function geom(el,o){ for(const k in o) el.setAttribute(k,o[k]); return el; }
function seg(parent,name,x1,y1,x2,y2,color,w){
  return geom(add(parent,'line',name),{x1:x1,y1:y1,x2:x2,y2:y2,stroke:color,'stroke-width':w});
}
function label(parent,name,x,y,str,fs,anchor){
  const t = geom(add(parent,'text',name),{x:x,y:y,'font-size':fs,'text-anchor':anchor});
  t.textContent = str;
  return t;
}
function yAxis(parent,prefix,y,x,from,to,major,minor,lenMajor,lenMinor,labelRight,fs,sw){
  const g = add(parent,'g',prefix+'-y-axis');
  seg(g,prefix+'-y-axis-line',x,y(from),x,y(to),'#000',sw);
  major.forEach(v=>{
    seg(g,prefix+'-y-tick',x-lenMajor,y(v),x,y(v),'#000',sw);
    label(g,prefix+'-y-tick-label',labelRight,y(v)+fs*0.30,fmt(v),fs,'end');
  });
  minor.forEach(v=>{
    seg(g,prefix+'-y-minor-tick',x-lenMinor,y(v),x,y(v),'#000',sw);
  });
}
function xAxis(parent,prefix,x,y0,from,to,major,minor,lenMajor,lenMinor,baseline,fs,sw){
  const g = add(parent,'g',prefix+'-x-axis');
  seg(g,prefix+'-x-axis-line',x(from),y0,x(to),y0,'#000',sw);
  major.forEach(v=>{
    seg(g,prefix+'-x-tick',x(v),y0,x(v),y0+lenMajor,'#000',sw);
    label(g,prefix+'-x-tick-label',x(v),baseline,fmt(v),fs,'middle');
  });
  minor.forEach(v=>{
    seg(g,prefix+'-x-minor-tick',x(v),y0,x(v),y0+lenMinor,'#000',sw);
  });
}
function drawBar(parent,name,cx,w,y,v,err,fill,capW,errW){
  const g = add(parent,'g',name);
  const top = y(v), base = y(0);
  geom(add(g,'rect',name+'-fill'),{x:cx-w/2,y:top,width:w,height:base-top,fill:fill,stroke:'#222','stroke-width':3});
  const hi = y(v+err), lo = y(Math.max(v-err,0));
  seg(g,name+'-error-stem',cx,hi,cx,lo,'#000',errW);
  seg(g,name+'-error-cap-top',cx-capW/2,hi,cx+capW/2,hi,'#000',errW);
  if(v-err>0) seg(g,name+'-error-cap-bottom',cx-capW/2,lo,cx+capW/2,lo,'#000',errW);
}
function drawTrace(parent,name,xs,ys,x,y,color,w){
  const pts = xs.map((t,i)=>x(t).toFixed(1)+','+y(ys[i]).toFixed(1)).join(' ');
  return geom(add(parent,'polyline',name),{points:pts,fill:'none',stroke:color,'stroke-width':w,'stroke-linejoin':'round','stroke-linecap':'round'});
}
function drawDownErrors(parent,name,xs,ys,errs,x,y,color,w,capW){
  const g = add(parent,'g',name);
  xs.forEach((t,i)=>{
    const px = x(t), y1 = y(ys[i]), y2 = y(ys[i]-errs[i]);
    seg(g,name+'-stem',px,y1,px,y2,color,w);
    seg(g,name+'-cap',px-capW/2,y2,px+capW/2,y2,color,w);
  });
}
function drawBothErrors(parent,name,xs,ys,errs,x,y,color,w,capW){
  const g = add(parent,'g',name);
  xs.forEach((t,i)=>{
    if(errs[i]<0.06) return;
    const px = x(t), y1 = y(ys[i]+errs[i]), y2 = y(ys[i]-errs[i]);
    seg(g,name+'-stem',px,y1,px,y2,color,w);
    seg(g,name+'-cap-top',px-capW/2,y1,px+capW/2,y1,color,w);
    seg(g,name+'-cap-bottom',px-capW/2,y2,px+capW/2,y2,color,w);
  });
}

/* ---------- Panel A ---------- */
(function(){
  const g = add(root,'g','panel-a-nuclear-localization-chart');
  const y = scale(0,100,1420,210);
  const band = scale(0,8,412,1502.4);
  A_CATEGORIES.forEach((c,i)=>{
    drawBar(g,'bar-'+c+'-dmso',band(i)-22.5,39,y,A_DMSO[i],A_DMSO_ERR[i],COLORS[c],32,6.5);
    drawBar(g,'bar-'+c+'-cis22a',band(i)+22.5,39,y,A_CIS[i],A_CIS_ERR[i],COLORS[c],32,6.5);
  });
  seg(g,'a-plot-top-border',327,210,1588,210,'#000',5);
  seg(g,'a-plot-right-border',1588,210,1588,1420,'#000',5);
  seg(g,'a-x-axis-line',327,1420,1588,1420,'#000',5);
  yAxis(g,'a',y,327,0,100,A_Y_TICKS,A_Y_MINOR,26,12,282,97,5);
})();

/* ---------- Panel B traces ---------- */
(function(){
  const g = add(root,'g','panel-b-current-chart');
  const x = scale(100,400,2077,3072);
  const y = scale(0,-60,465,1317.6);
  seg(g,'b-zero-line',x(100),y(0),x(480),y(0),'#000',2);
  const sets = [
    ['wt',B_WT_MEAN,B_WT_ERR,'#555555',11],
    ['d580k',B_D580K_MEAN,B_D580K_ERR,'#0a50a8',12],
    ['i575a',B_I575A_MEAN,B_I575A_ERR,'#00ffff',11],
    ['w583f',B_W583F_MEAN,B_W583F_ERR,'#ff0000',13]
  ];
  sets.forEach(s=>{
    drawDownErrors(g,'b-'+s[0]+'-error-bars',B_TIME,s[1],s[2],x,y,s[3],4.5,24);
  });
  sets.forEach(s=>{
    drawTrace(g,'b-'+s[0]+'-trace',B_TIME,s[1],x,y,s[3],s[4]);
  });
  yAxis(g,'b',y,2077,-75,10,B_Y_TICKS,B_Y_MINOR,24,12,2048,94,5);
  xAxis(g,'b',x,1532,100,480,B_X_TICKS,B_X_MINOR,20,10,1652,94,5);
})();

/* ---------- Panel B inhibition ---------- */
(function(){
  const g = add(root,'g','panel-b-inhibition-chart');
  const y = scale(0,100,1535,323.5);
  const slot = scale(0,8,3706,4274);
  const colors = ['#000000','#00ffff','#0a50a8','#ff0000'];
  BI_VARIANTS.forEach((v,i)=>{
    drawBar(g,'bar-low-dose-'+v,slot(i),58,y,BI_LOW_VALUES[i],BI_LOW_ERR[i],colors[i],35,6.5);
    drawBar(g,'bar-high-dose-'+v,slot(i+5),58,y,BI_HIGH_VALUES[i],BI_HIGH_ERR[i],colors[i],35,6.5);
  });
  seg(g,'b-inhibition-x-axis',3647,1535,4310,1535,'#000',5);
  yAxis(g,'b-inhibition',y,3671,0,100,BI_Y_TICKS,BI_Y_MINOR,23,12,3625,95,5);
})();

/* ---------- Panel C traces ---------- */
(function(){
  const g = add(root,'g','panel-c-current-chart');
  const x = scale(100,200,350,921);
  const y = scale(0,-40,2448,3345);
  seg(g,'c-zero-line',324,y(0),1093,y(0),'#000',2);
  const sets = [
    ['i575a',C_I575A_MEAN,C_I575A_ERR,'#00ffff',11],
    ['d580k',C_D580K_MEAN,C_D580K_ERR,'#0a60d0',11],
    ['wt',C_WT_MEAN,C_WT_ERR,'#000000',13],
    ['w583f',C_W583F_MEAN,C_W583F_ERR,'#ff0000',12]
  ];
  sets.forEach(s=>{
    drawDownErrors(g,'c-'+s[0]+'-error-bars',C_TIME,s[1],s[2],x,y,s[3],4,28);
  });
  sets.forEach(s=>{
    drawTrace(g,'c-'+s[0]+'-trace',C_TIME,s[1],x,y,s[3],s[4]);
  });
  yAxis(g,'c',y,324,-49,5,C_Y_TICKS,C_Y_MINOR,26,12,282,97,5);
  xAxis(g,'c',x,3546,95.4,230,C_X_TICKS,C_X_MINOR,20,10,3666,97,5);
})();

/* ---------- Panel C inhibition ---------- */
(function(){
  const g = add(root,'g','panel-c-inhibition-chart');
  const y = scale(0,100,3546,2335);
  const slot = scale(0,3,1452,1700.5);
  const colors = ['#000000','#00ffff','#0a60d0','#ff0000'];
  CI_VARIANTS.forEach((v,i)=>{
    drawBar(g,'bar-'+v,slot(i),66,y,CI_VALUES[i],CI_ERR[i],colors[i],35,6.5);
  });
  seg(g,'c-inhibition-x-axis',1387,3546,1751,3546,'#000',5);
  yAxis(g,'c-inhibition',y,1411,0,100,CI_Y_TICKS,CI_Y_MINOR,24,12,1366,97,5);
})();

/* ---------- Panel D traces ---------- */
function drawCalciumPanel(prefix,axisX,x300,yTop,yOne,yBottom,labelRight,xBaseline,barLeft,barMid,barRight,barH,color,wt,wtErr,mut,mutErr){
  const g = add(root,'g',prefix+'-calcium-chart');
  const x = scale(0,300,axisX,x300);
  const y = scale(7,1,yTop,yOne);
  geom(add(g,'rect',prefix+'-0mm-calcium-bar'),{x:barLeft,y:yTop,width:barMid-barLeft,height:barH,fill:'#cccccc',stroke:'#888','stroke-width':2});
  geom(add(g,'rect',prefix+'-2mm-calcium-bar'),{x:barMid,y:yTop,width:barRight-barMid,height:barH,fill:'#888888',stroke:'#777','stroke-width':2});
  drawBothErrors(g,prefix+'-d523g-error-bars',D_TIME,mut,mutErr,x,y,color,3.5,20);
  const dots = add(g,'g',prefix+'-d523g-dots');
  D_TIME.forEach((t,i)=>{
    geom(add(dots,'circle',prefix+'-d523g-dot'),{cx:x(t),cy:y(mut[i]),r:5.5,fill:color});
  });
  drawBothErrors(g,prefix+'-wt-error-bars',D_TIME,wt,wtErr,x,y,color,3.5,20);
  drawTrace(g,prefix+'-wt-trace',D_TIME,wt,x,y,color,11);
  yAxis(g,prefix,y,axisX,0.69,7,D_Y_TICKS,D_Y_MINOR,17,10,labelRight,83,4.5);
  xAxis(g,prefix,x,yBottom,0,300,D_X_TICKS,D_X_MINOR,17,10,xBaseline,83,4.5);
  const brk = add(g,'g',prefix+'-axis-break');
  seg(brk,prefix+'-axis-break-left',x(165)-4,yBottom-12,x(165)-4,yBottom+26,'#000',6);
  seg(brk,prefix+'-axis-break-right',x(165)+5,yBottom-12,x(165)+5,yBottom+26,'#000',6);
}
drawCalciumPanel('d-wt',2178,2717,1924,2789,2834,2145,2930,2190,2279.5,2724,49,'#000000',D_WT_WT,D_WT_WT_ERR,D_WT_MUT,D_WT_MUT_ERR);
drawCalciumPanel('d-i575a',2965,3504.6,1924,2789,2834,2933,2930,2979,3066,3510,49,'#00ffff',D_I575A_WT,D_I575A_WT_ERR,D_I575A_MUT,D_I575A_MUT_ERR);
drawCalciumPanel('d-d580k',2178,2717,3027,3892.5,3939,2145,4032,2190,2279.5,2724,49,'#0000ff',D_D580K_WT,D_D580K_WT_ERR,D_D580K_MUT,D_D580K_MUT_ERR);
drawCalciumPanel('d-w583f',2965,3504.6,3025,3890,3935.5,2933,4030,2979,3066,3510,49,'#ff0000',D_W583F_WT,D_W583F_WT_ERR,D_W583F_MUT,D_W583F_MUT_ERR);

/* ---------- Panel D delta bars ---------- */
(function(){
  const g = add(root,'g','panel-d-delta-inhibition-chart');
  const y = scale(0,20,3411,2201);
  const slot = scale(0,3,4003,4238.5);
  const colors = ['#000000','#00ffff','#0000ff','#ff0000'];
  DI_VARIANTS.forEach((v,i)=>{
    drawBar(g,'bar-'+v,slot(i),68,y,DI_VALUES[i],DI_ERR[i],colors[i],31,7);
  });
  seg(g,'d-delta-x-axis',3928,3411,4293,3411,'#000',5);
  yAxis(g,'d-delta',y,3951,0,20,DI_Y_TICKS,DI_Y_MINOR,23,12,3905,95,5);
})();

/* Slightly embolden all labels to match the heavy print weight of the figure */
root.querySelectorAll('text').forEach(t=>{
  const fill = t.getAttribute('fill') || '#000';
  t.setAttribute('stroke', fill);
  t.setAttribute('stroke-width', '1.6');
});
</script>
</body>
</html>
